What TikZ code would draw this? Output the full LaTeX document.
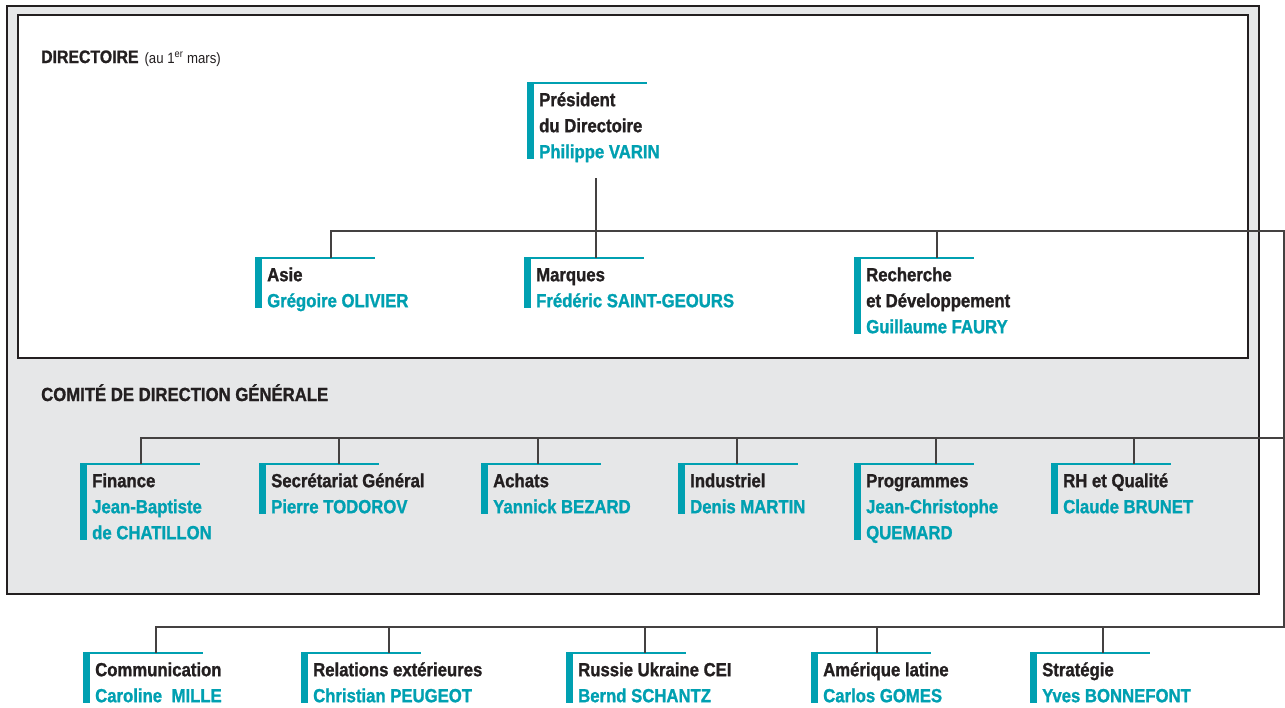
\documentclass[tikz,border=0pt]{standalone}
\usepackage{fontspec}
\setmainfont{Liberation Sans}[FakeStretch=0.88, BoldFeatures={FakeBold=1.2}]
\definecolor{ink}{HTML}{231F20}
\definecolor{accent}{HTML}{00A0B1}
\definecolor{panel}{HTML}{E6E7E8}
\newcommand\nm[1]{\textcolor{accent}{#1}}
\newcommand\orgbox[6]{%
  \fill[accent] (#2,#3) rectangle (#2+7,#3+24+26*#4-26);
  \draw[accent,line width=1.3pt] (#2,#3) -- (#2+120,#3);
  \node[txt] (#1) at (#2+12,#3+5) {\rule{0pt}{18pt}#6};
  \coordinate (#1-in) at (#5,#3);
}
\tikzset{
  txt/.style={inner sep=0pt, anchor=north west, align=left, text=ink,
    font=\bfseries\fontsize{19}{26}\selectfont},
  conn/.style={draw=ink!85, line width=1.1pt},
  frame/.style={draw=ink, line width=1.5pt}
}
\begin{document}
\begin{tikzpicture}[x=1pt,y=-1pt]
\useasboundingbox (0,0) rectangle (1285,707);
% panels
\draw[frame, fill=panel] (7,6) rectangle (1259,594);
\draw[frame, fill=white] (18,15) rectangle (1248,358);
% titles
\node[anchor=base west, inner sep=0pt, text=ink, font=\bfseries\fontsize{18}{20}\selectfont] (dirtitle) at (41,63)
  {DIRECTOIRE\hspace{6pt}{\mdseries\fontsize{15}{17}\selectfont(au 1\textsuperscript{er} mars)}};
\node[anchor=base west, inner sep=0pt, text=ink, font=\bfseries\fontsize{19}{22}\selectfont] (cdgtitle) at (41,401)
  {COMITÉ DE DIRECTION GÉNÉRALE};
% junction coordinates
\coordinate (j1) at (1284,231);
\coordinate (j2) at (1284,438);
\coordinate (j3) at (1284,627);
\coordinate (pres-out) at (596,178);
% boxes
\orgbox{pres}{527}{83}{3}{596}{Président\\du Directoire\\\nm{Philippe VARIN}}
\orgbox{asie}{255}{258}{2}{331}{Asie\\\nm{Grégoire OLIVIER}}
\orgbox{marq}{524}{258}{2}{596}{Marques\\\nm{Frédéric SAINT-GEOURS}}
\orgbox{rd}{854}{258}{3}{937}{Recherche\\et Développement\\\nm{Guillaume FAURY}}
\orgbox{fin}{80}{464}{3}{141}{Finance\\\nm{Jean-Baptiste}\\\nm{de CHATILLON}}
\orgbox{sec}{259}{464}{2}{339}{Secrétariat Général\\\nm{Pierre TODOROV}}
\orgbox{ach}{481}{464}{2}{538}{Achats\\\nm{Yannick BEZARD}}
\orgbox{ind}{678}{464}{2}{737}{Industriel\\\nm{Denis MARTIN}}
\orgbox{prog}{854}{464}{3}{936}{Programmes\\\nm{Jean-Christophe}\\\nm{QUEMARD}}
\orgbox{rh}{1051}{464}{2}{1134}{RH et Qualité\\\nm{Claude BRUNET}}
\orgbox{com}{83}{653}{2}{156}{Communication\\\nm{Caroline\enspace MILLE}}
\orgbox{rel}{301}{653}{2}{389}{Relations extérieures\\\nm{Christian PEUGEOT}}
\orgbox{rus}{566}{653}{2}{645}{Russie Ukraine CEI\\\nm{Bernd SCHANTZ}}
\orgbox{ame}{811}{653}{2}{877}{Amérique latine\\\nm{Carlos GOMES}}
\orgbox{str}{1030}{653}{2}{1103}{Stratégie\\\nm{Yves BONNEFONT}}
% connectors
\draw[conn] (pres-out) -- (marq-in);
\draw[conn] (asie-in) -- (asie-in |- j1) -- (j1) -- (j3) -- (com-in |- j3) -- (com-in);
\draw[conn] (rd-in) -- (rd-in |- j1);
\draw[conn] (fin-in) -- (fin-in |- j2) -- (j2);
\foreach \n in {sec,ach,ind,prog,rh} \draw[conn] (\n-in) -- (\n-in |- j2);
\foreach \n in {rel,rus,ame,str} \draw[conn] (\n-in) -- (\n-in |- j3);
\end{tikzpicture}
\end{document}
